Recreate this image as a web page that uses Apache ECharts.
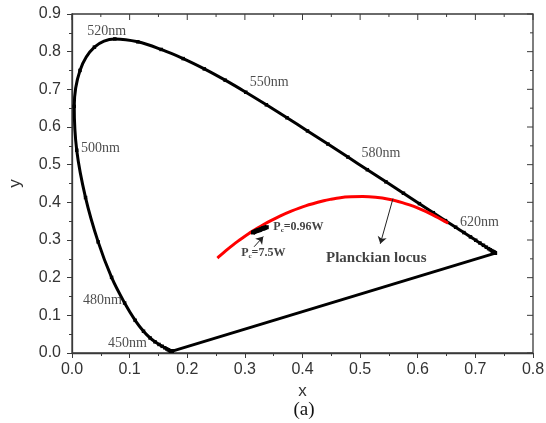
<!DOCTYPE html>
<html>
<head>
<meta charset="utf-8">
<script src="https://cdn.jsdelivr.net/npm/echarts@6/dist/echarts.min.js"></script>
<style>
  html, body { margin: 0; padding: 0; background: #fff; }
  #chart { width: 546px; height: 423px; }
</style>
</head>
<body>
<div id="chart"></div>
<script>
// CIE 1931 spectral locus, 380-700 nm in 5 nm steps
const specX = [0.1741,0.1740,0.1738,0.1736,0.1733,0.1730,0.1726,0.1721,0.1714,0.1703,
               0.1689,0.1669,0.1644,0.1611,0.1566,0.1510,0.1440,0.1355,0.1241,0.1096,
               0.0913,0.0687,0.0454,0.0235,0.0082,0.0039,0.0139,0.0389,0.0743,0.1142,
               0.1547,0.1929,0.2296,0.2658,0.3016,0.3373,0.3731,0.4087,0.4441,0.4788,
               0.5125,0.5448,0.5752,0.6029,0.6270,0.6482,0.6658,0.6801,0.6915,0.7006,
               0.7079,0.7140,0.7190,0.7230,0.7260,0.7283,0.7300,0.7311,0.7320,0.7327,
               0.7334,0.7340,0.7344,0.7346,0.7347];
const specY = [0.0050,0.0050,0.0049,0.0049,0.0048,0.0048,0.0048,0.0048,0.0051,0.0058,
               0.0069,0.0086,0.0109,0.0138,0.0177,0.0227,0.0297,0.0399,0.0578,0.0868,
               0.1327,0.2007,0.2950,0.4127,0.5384,0.6548,0.7502,0.8120,0.8338,0.8262,
               0.8059,0.7816,0.7543,0.7243,0.6923,0.6589,0.6245,0.5896,0.5547,0.5202,
               0.4866,0.4544,0.4242,0.3965,0.3725,0.3514,0.3340,0.3197,0.3083,0.2993,
               0.2920,0.2859,0.2809,0.2770,0.2740,0.2717,0.2700,0.2689,0.2680,0.2673,
               0.2666,0.2660,0.2656,0.2654,0.2653];

// Planckian locus, 1000 K to 25000 K
const planckX = [0.6528,0.6251,0.5985,0.5857,0.5732,0.5497,0.5267,0.5045,0.4841,0.4655,
                 0.4482,0.4369,0.4053,0.3805,0.3608,0.3451,0.3325,0.3221,0.3135,0.3064,
                 0.2952,0.2869,0.2807,0.2719,0.2637,0.2565,0.2524];
const planckY = [0.3444,0.3674,0.3858,0.3931,0.3993,0.4081,0.4133,0.4152,0.4145,0.4123,
                 0.4078,0.4041,0.3907,0.3768,0.3636,0.3516,0.3411,0.3318,0.3236,0.3166,
                 0.3048,0.2956,0.2884,0.2778,0.2672,0.2577,0.2521];

// Measured chromaticity points (Pc from 0.96 W to 7.5 W)
const measX = [0.314,0.320,0.326,0.332,0.338];
const measY = [0.320,0.324,0.327,0.331,0.334];

// Wavelength annotations
const nmLabels = ['520nm','500nm','550nm','580nm','620nm','480nm','450nm'];
const nmX = [0.060,0.0495,0.342,0.536,0.707,0.053,0.096];
const nmY = [0.854,0.543,0.718,0.529,0.348,0.141,0.027];

// Major tick values of both axes
const xTicks = [0, 0.1, 0.2, 0.3, 0.4, 0.5, 0.6, 0.7, 0.8];
const yTicks = [0, 0.1, 0.2, 0.3, 0.4, 0.5, 0.6, 0.7, 0.8, 0.9];

const zip = (a, b) => a.map((v, i) => [v, b[i]]);
const spectral = zip(specX, specY);
const closing = [spectral[0], spectral[spectral.length - 1]];
const xMax = xTicks[xTicks.length - 1];
const yMax = yTicks[yTicks.length - 1];
const step = xTicks[1] - xTicks[0];

const serif = '"Liberation Serif", "Times New Roman", serif';
const sans = '"Liberation Sans", Arial, sans-serif';
const ink = '#3a3a3a';

const chart = echarts.init(document.getElementById('chart'), null, { renderer: 'canvas' });

// Box frame with inward ticks on the top and right edges
function renderFrame(params, api) {
  const tl = api.coord([0, yMax]);
  const br = api.coord([xMax, 0]);
  const line = (x1, y1, x2, y2, w) => ({
    type: 'line', shape: { x1, y1, x2, y2 }, style: { stroke: ink, lineWidth: w || 1 }
  });
  const children = [{
    type: 'rect',
    shape: { x: tl[0], y: tl[1], width: br[0] - tl[0], height: br[1] - tl[1] },
    style: { fill: null, stroke: ink, lineWidth: 1.3 }
  }];
  xTicks.forEach(v => {
    const p = api.coord([v, yMax]);
    children.push(line(p[0], tl[1], p[0], tl[1] + 6));
    if (v < xMax) {
      const m = api.coord([v + step / 2, yMax]);
      children.push(line(m[0], tl[1], m[0], tl[1] + 3));
    }
  });
  yTicks.forEach(v => {
    const p = api.coord([xMax, v]);
    children.push(line(br[0], p[1], br[0] - 6, p[1]));
    if (v < yMax) {
      const m = api.coord([xMax, v + step / 2]);
      children.push(line(br[0], m[1], br[0] - 3, m[1]));
    }
  });
  return { type: 'group', children };
}

function axis(dim, max) {
  return {
    type: 'value', min: 0, max, interval: step,
    axisLine: { show: true, onZero: false, lineStyle: { color: ink, width: 1.3 } },
    axisTick: { show: true, inside: false, length: 5, lineStyle: { color: ink } },
    minorTick: { show: true, splitNumber: 2, length: 3, lineStyle: { color: ink } },
    splitLine: { show: false },
    minorSplitLine: { show: false },
    axisLabel: {
      show: true, formatter: v => v.toFixed(1),
      fontFamily: sans, fontSize: 16, color: '#333', margin: dim === 'x' ? 9 : 11
    },
    name: dim, nameLocation: 'middle', nameGap: dim === 'x' ? 30 : 48,
    nameRotate: dim === 'y' ? 90 : 0,
    nameTextStyle: { fontFamily: sans, fontSize: 17, color: '#333' }
  };
}

chart.setOption({
  animation: false,
  backgroundColor: '#fff',
  grid: { left: 72, top: 14, width: 461, height: 339, outerBoundsMode: 'none', containLabel: false },
  xAxis: axis('x', xMax),
  yAxis: axis('y', yMax),
  graphic: [
    {
      type: 'text', x: 304, y: 410,
      style: { text: '(a)', font: '19px ' + serif, fill: '#111', textAlign: 'center', textVerticalAlign: 'middle' }
    }
  ],
  series: [
    {
      name: 'frame', type: 'custom', renderItem: renderFrame, data: [[0, 0]],
      clip: false, silent: true, z: 1
    },
    {
      name: 'purple line', type: 'line', data: closing,
      symbol: 'none', lineStyle: { color: '#000', width: 3 }, z: 3
    },
    {
      name: 'spectral locus', type: 'line', data: spectral,
      symbol: 'rect', symbolSize: 3.5, smooth: 0.35, itemStyle: { color: '#000' },
      lineStyle: { color: '#000', width: 3 }, z: 3
    },
    {
      name: 'Planckian locus', type: 'line', data: zip(planckX, planckY),
      symbol: 'none', smooth: 0.3, lineStyle: { color: '#f00', width: 3 }, z: 4
    },
    {
      name: 'measured', type: 'line', data: zip(measX, measY),
      symbol: 'rect', symbolSize: 4, itemStyle: { color: '#000' },
      lineStyle: { color: '#000', width: 5 }, z: 5
    },
    {
      name: 'wavelengths', type: 'scatter', symbolSize: 0, z: 6,
      data: nmLabels.map((t, i) => ({ value: [nmX[i], nmY[i]], name: t })),
      label: {
        show: true, position: 'inside', formatter: p => p.name,
        fontFamily: serif, fontSize: 14, color: '#222'
      }
    },
    {
      name: 'notes', type: 'scatter', symbolSize: 0, z: 6,
      data: [
        { value: [0.528, 0.253], name: 'locus' },
        { value: [0.393, 0.336], name: 'p1' },
        { value: [0.332, 0.267], name: 'p2' }
      ],
      label: {
        show: true, position: 'inside',
        formatter: p => {
          if (p.name === 'locus') return '{b|Planckian locus}';
          if (p.name === 'p1') return '{p|P}{s|c}{p|=0.96W}';
          return '{p|P}{s|c}{p|=7.5W}';
        },
        rich: {
          b: { fontFamily: serif, fontWeight: 'bold', fontSize: 15, color: '#111' },
          p: { fontFamily: serif, fontWeight: 'bold', fontSize: 12, color: '#111' },
          s: { fontFamily: serif, fontWeight: 'bold', fontSize: 7, color: '#111', padding: [7, 0, 0, 0] }
        }
      },
      markLine: {
        silent: true, symbol: ['none', 'arrow'], symbolSize: 7,
        label: { show: false },
        lineStyle: { color: '#222', width: 1, type: 'solid' },
        data: [
          [{ coord: [0.557, 0.410] }, { coord: [0.535, 0.290] }],
          [{ coord: [0.316, 0.282], lineStyle: { curveness: 0.9 } }, { coord: [0.332, 0.309] }]
        ]
      }
    }
  ]
});
</script>
</body>
</html>
